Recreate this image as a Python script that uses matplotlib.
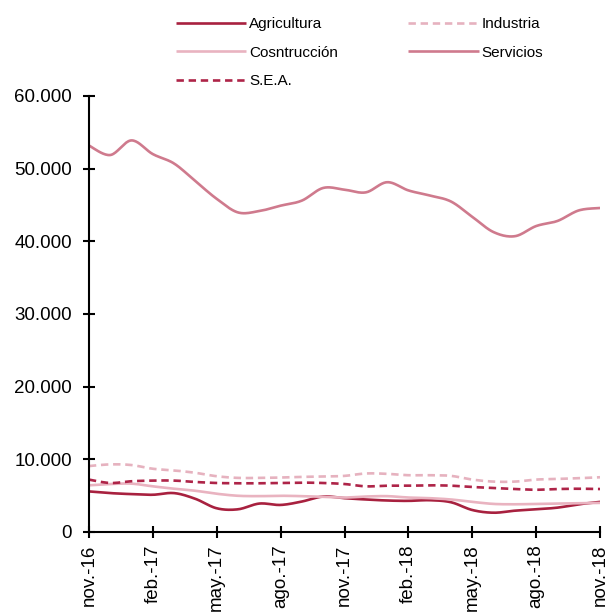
import numpy as np
import matplotlib
matplotlib.use("Agg")
import matplotlib.pyplot as plt

months = ["nov.-16", "dic.-16", "ene.-17", "feb.-17", "mar.-17", "abr.-17", "may.-17", "jun.-17",
          "jul.-17", "ago.-17", "sep.-17", "oct.-17", "nov.-17", "dic.-17", "ene.-18", "feb.-18",
          "mar.-18", "abr.-18", "may.-18", "jun.-18", "jul.-18", "ago.-18", "sep.-18", "oct.-18",
          "nov.-18"]

agricultura = [5580, 5350, 5210, 5120, 5350, 4560, 3260, 3120, 3910, 3720, 4190, 4880, 4650,
               4470, 4330, 4280, 4370, 4090, 3020, 2650, 2930, 3120, 3350, 3810, 4140]
industria = [9070, 9300, 9210, 8700, 8470, 8140, 7670, 7440, 7440, 7490, 7580, 7630, 7720,
             8050, 8000, 7810, 7810, 7720, 7210, 6930, 6930, 7210, 7300, 7400, 7530]
construccion = [6420, 6600, 6650, 6280, 5950, 5670, 5260, 4980, 4930, 4980, 4930, 4840, 4740,
                4880, 4930, 4740, 4650, 4470, 4140, 3860, 3810, 3860, 3910, 3950, 4000]
servicios = [53180, 51870, 53880, 52000, 50700, 48270, 45840, 43970, 44160, 44900, 45600, 47340,
             47100, 46730, 48130, 47000, 46300, 45470, 43360, 41260, 40700, 42100, 42800, 44250,
             44580]
sea = [7210, 6740, 6980, 7070, 7070, 6880, 6740, 6700, 6700, 6740, 6790, 6740, 6600, 6280,
       6370, 6370, 6420, 6370, 6190, 6050, 5910, 5810, 5910, 5950, 5910]

yticks = [0, 10000, 20000, 30000, 40000, 50000, 60000]
ytick_labels = ["0", "10.000", "20.000", "30.000", "40.000", "50.000", "60.000"]


def smooth(x, y, n=20):
    """Excel-like smoothed line (Catmull-Rom Bezier) for drawing."""
    x = np.asarray(x, float)
    y = np.asarray(y, float)
    px = np.concatenate([[x[0]], x, [x[-1]]])
    py = np.concatenate([[y[0]], y, [y[-1]]])
    xs, ys = [], []
    t = np.linspace(0, 1, n, endpoint=False)
    for i in range(1, len(px) - 2):
        p0 = np.array([px[i], py[i]])
        p3 = np.array([px[i + 1], py[i + 1]])
        c1 = p0 + (np.array([px[i + 1], py[i + 1]]) - np.array([px[i - 1], py[i - 1]])) / 6
        c2 = p3 - (np.array([px[i + 2], py[i + 2]]) - np.array([px[i], py[i]])) / 6
        b = ((1 - t) ** 3)[:, None] * p0 + (3 * (1 - t) ** 2 * t)[:, None] * c1 + \
            (3 * (1 - t) * t ** 2)[:, None] * c2 + (t ** 3)[:, None] * p3
        xs.extend(b[:, 0])
        ys.extend(b[:, 1])
    xs.append(x[-1])
    ys.append(y[-1])
    return np.array(xs), np.array(ys)


plt.rcParams['font.family'] = ['Liberation Sans', 'DejaVu Sans']

fig = plt.figure(figsize=(6.13, 6.15), dpi=100)
ax = fig.add_axes([0.145, 0.135, 0.834, 0.709])

x = np.arange(len(months))
lw = 1.9
dash = (2.8, 1.8)
series = [
    ("Agricultura", agricultura, "#A8213F", "-"),
    ("Cosntrucción", construccion, "#E9B3C0", "-"),
    ("S.E.A.", sea, "#AE2448", "--"),
    ("Industria", industria, "#E6B2BF", "--"),
    ("Servicios", servicios, "#CF7A8D", "-"),
]
handles = []
for name, vals, col, ls in series:
    sx, sy = smooth(x, vals)
    line, = ax.plot(sx, sy, color=col, lw=lw, ls=ls, label=name, solid_capstyle='butt')
    if ls == "--":
        line.set_dashes(dash)
    handles.append(line)

ax.set_xlim(0, len(months) - 1)
ax.set_ylim(0, 60000)
ax.set_yticks(yticks)
ax.set_yticklabels(ytick_labels)
ax.set_xticks(x[::3])
ax.set_xticklabels(months[::3], rotation=90, va='top', ha='center')

for s in ["top", "right"]:
    ax.spines[s].set_visible(False)
for s in ["left", "bottom"]:
    ax.spines[s].set_linewidth(1.5)
    ax.spines[s].set_color("black")
ax.tick_params(axis='both', direction='inout', length=8, width=1.5, labelsize=13.5, colors='black')
ax.tick_params(axis='y', pad=8)
ax.tick_params(axis='x', pad=5)

leg = fig.legend(handles=handles, loc='upper left', bbox_to_anchor=(0.277, 0.982), ncol=2,
                 frameon=False, fontsize=11, handlelength=4.6, handletextpad=0.2,
                 columnspacing=4.6, labelspacing=0.95, borderaxespad=0)

fig.savefig("out.png", dpi=100)
